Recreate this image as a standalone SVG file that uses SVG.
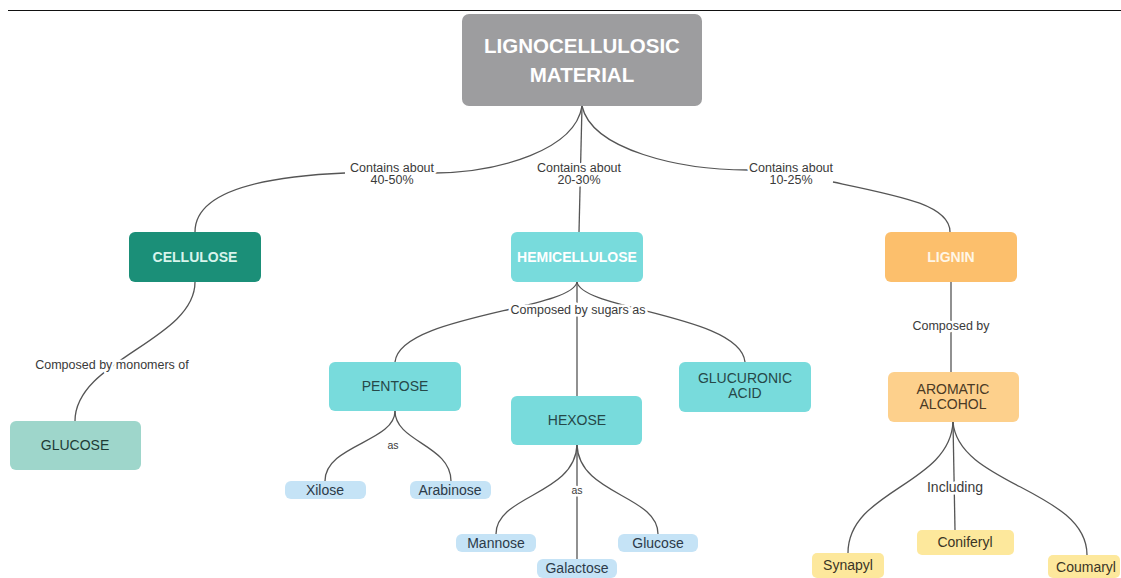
<svg xmlns="http://www.w3.org/2000/svg" width="1121" height="578" viewBox="0 0 1121 578">
<style>
text{font-family:"Liberation Sans",Arial,sans-serif;text-anchor:middle}
.b{font-weight:bold}
.c{fill:none;stroke:#555;stroke-width:1.3}
.lbl{font-size:12.5px;fill:#3a3a3a;stroke:#fff;stroke-width:5px;paint-order:stroke;stroke-linejoin:round}
.n14{font-size:14px}
.pill{fill:#c5e3f6}
.ypill{fill:#fde89c}
.teal{fill:#78dbdc}
</style>
<rect width="1121" height="578" fill="#fff"/>
<line x1="8" y1="10.5" x2="1121" y2="10.5" stroke="#111" stroke-width="1.2"/>
<g id="connectors">
<path class="c" d="M582,106 C575,150 500,172 435,173"/>
<path class="c" d="M345,173 C250,177 195,195 195,232"/>
<path class="c" d="M582,106 L579,232"/>
<path class="c" d="M582,106 C592,150 680,170 748,170"/>
<path class="c" d="M833,182 C900,196 950,205 950,232"/>
<path class="c" d="M195,282 C195,340 75,360 75,421"/>
<path class="c" d="M577,282 C572,310 400,315 395,362"/>
<path class="c" d="M577,282 L577,396"/>
<path class="c" d="M577,282 C582,310 740,315 745,362"/>
<path class="c" d="M395,411 C395,442 325,445 325,481"/>
<path class="c" d="M395,411 C395,442 451,445 451,481"/>
<path class="c" d="M577,445 C575,495 496,495 496,534"/>
<path class="c" d="M577,445 L577,559"/>
<path class="c" d="M577,445 C579,495 658,495 658,534"/>
<path class="c" d="M951,282 L951,372"/>
<path class="c" d="M953,422 C950,485 848,490 848,553"/>
<path class="c" d="M953,422 L955,530"/>
<path class="c" d="M953,422 C958,485 1087,490 1087,555"/>
<text class="lbl" x="392" y="172">Contains about</text>
<text class="lbl" x="392" y="184">40-50%</text>
<text class="lbl" x="579" y="172">Contains about</text>
<text class="lbl" x="579" y="184">20-30%</text>
<text class="lbl" x="791" y="172">Contains about</text>
<text class="lbl" x="791" y="184">10-25%</text>
<text class="lbl" x="112" y="369">Composed by monomers of</text>
<text class="lbl" x="578" y="314">Composed by sugars as</text>
<text class="lbl" x="393" y="449" style="font-size:10.5px">as</text>
<text class="lbl" x="577" y="494" style="font-size:10.5px">as</text>
<text class="lbl" x="951" y="330">Composed by</text>
<text class="lbl" x="955" y="492" style="font-size:14px">Including</text>
</g>
<g id="root">
<rect x="462" y="14" width="240" height="92" rx="7" fill="#9d9d9f"/>
<text class="b" x="582" y="53" font-size="20.5" fill="#fff">LIGNOCELLULOSIC</text>
<text class="b" x="582" y="82" font-size="20.5" fill="#fff">MATERIAL</text>
</g>
<g id="cellulose">
<rect x="129" y="232" width="132" height="50" rx="6" fill="#1b8f78"/>
<text class="b n14" x="195" y="262" fill="#d8f4ec">CELLULOSE</text>
</g>
<g id="hemicellulose">
<rect x="511" y="232" width="132" height="50" rx="6" class="teal"/>
<text class="b n14" x="577" y="262" fill="#fff">HEMICELLULOSE</text>
</g>
<g id="lignin">
<rect x="885" y="232" width="132" height="50" rx="6" fill="#fcbf6c"/>
<text class="b n14" x="951" y="262" fill="#fff6e6">LIGNIN</text>
</g>
<g id="glucose-main">
<rect x="10" y="421" width="131" height="49" rx="6" fill="#9ed6cb"/>
<text class="n14" x="75" y="450" fill="#1d3a35">GLUCOSE</text>
</g>
<g id="pentose">
<rect x="329" y="362" width="132" height="49" rx="6" class="teal"/>
<text class="n14" x="395" y="391" fill="#264848">PENTOSE</text>
</g>
<g id="hexose">
<rect x="511" y="396" width="131" height="49" rx="6" class="teal"/>
<text class="n14" x="577" y="425" fill="#264848">HEXOSE</text>
</g>
<g id="glucuronic">
<rect x="679" y="362" width="132" height="50" rx="6" class="teal"/>
<text class="n14" x="745" y="383" fill="#264848">GLUCURONIC</text>
<text class="n14" x="745" y="398" fill="#264848">ACID</text>
</g>
<g id="aromatic">
<rect x="888" y="372" width="131" height="50" rx="6" fill="#fdd08c"/>
<text class="n14" x="953" y="394" fill="#4a3a25">AROMATIC</text>
<text class="n14" x="953" y="409" fill="#4a3a25">ALCOHOL</text>
</g>
<g id="xilose">
<rect x="285" y="481" width="81" height="18" rx="6" class="pill"/>
<text class="n14" x="325" y="495" fill="#2c3a48">Xilose</text>
</g>
<g id="arabinose">
<rect x="410" y="481" width="81" height="18" rx="6" class="pill"/>
<text class="n14" x="450" y="495" fill="#2c3a48">Arabinose</text>
</g>
<g id="mannose">
<rect x="456" y="534" width="80" height="18" rx="6" class="pill"/>
<text class="n14" x="496" y="548" fill="#2c3a48">Mannose</text>
</g>
<g id="galactose">
<rect x="537" y="559" width="80" height="19" rx="6" class="pill"/>
<text class="n14" x="577" y="573" fill="#2c3a48">Galactose</text>
</g>
<g id="glucose">
<rect x="618" y="534" width="80" height="18" rx="6" class="pill"/>
<text class="n14" x="658" y="548" fill="#2c3a48">Glucose</text>
</g>
<g id="synapyl">
<rect x="812" y="553" width="72" height="25" rx="5" class="ypill"/>
<text class="n14" x="848" y="570" fill="#3a3526">Synapyl</text>
</g>
<g id="coniferyl">
<rect x="917" y="530" width="97" height="25" rx="5" class="ypill"/>
<text class="n14" x="965" y="547" fill="#3a3526">Coniferyl</text>
</g>
<g id="coumaryl">
<rect x="1048" y="555" width="72" height="23" rx="5" class="ypill"/>
<text class="n14" x="1086" y="572" fill="#3a3526">Coumaryl</text>
</g>
</svg>
